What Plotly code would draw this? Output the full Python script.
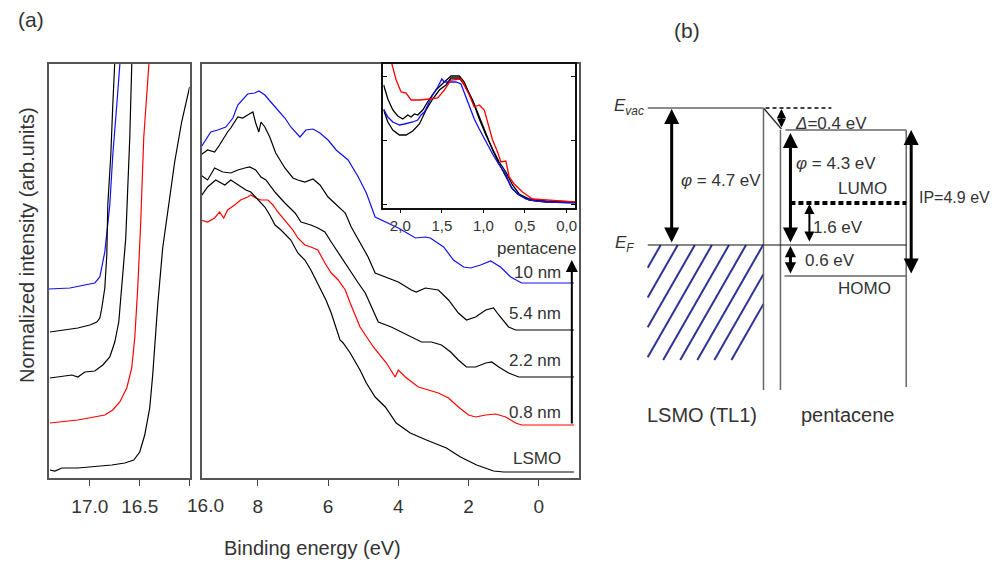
import plotly.graph_objects as go

FONT = "Liberation Sans, Arial, sans-serif"
TXT = "#333333"
W, H = 1002, 563
PAGE = 8  # default body margin of the html page

# ---------------- (a) main panel : valence band, binding energy (eV) vs intensity (arb.)
# every curve is given relative to its own baseline, then stacked with an offset
e_10nm = [9.63, 9.34, 9.14, 8.91, 8.71, 8.57, 8.29, 8.09, 7.97, 7.8, 7.63, 7.43, 7.23, 7.06, 6.8, 6.63, 6.43,
          6.23, 6.0, 5.77, 5.43, 5.14, 4.91, 4.66, 4.37, 4.0, 3.51, 3.23, 3.09, 2.71, 2.43, 2.14, 1.94, 1.66,
          1.37, 1.09, 0.8, 0.49, 0.0, -0.5, -1.0]
i_10nm = [135, 151, 153, 156, 165, 178, 189, 190, 192, 188, 181, 173, 165, 156, 146, 153, 154, 150, 143, 133,
          123, 106, 90, 66, 61, 55, 45, 46, 45, 36, 23, 16, 15, 18, 22, 16, 6, 0, 0, 0, 0]

e_54nm = [9.63, 9.43, 9.23, 9.09, 8.86, 8.77, 8.57, 8.43, 8.29, 8.14, 8.06, 7.97, 7.91, 7.8, 7.66, 7.49, 7.23,
          7.0, 6.86, 6.66, 6.43, 6.23, 6.0, 5.71, 5.51, 5.34, 5.14, 4.86, 4.66, 4.37, 4.0, 3.63, 3.49, 3.23,
          2.86, 2.57, 2.29, 2.06, 1.8, 1.51, 1.29, 1.14, 0.86, 0.66, 0.0, -0.5, -1.0]
i_54nm = [175, 180, 178, 185, 198, 202, 213, 212, 215, 218, 207, 198, 208, 203, 193, 177, 162, 152, 150, 148,
          151, 145, 133, 123, 117, 103, 90, 73, 57, 53, 48, 40, 38, 42, 40, 30, 17, 10, 13, 20, 22, 15, 3, 0,
          0, 0, 0]

e_22nm = [9.63, 9.43, 9.23, 9.0, 8.77, 8.57, 8.37, 8.23, 8.06, 7.91, 7.77, 7.63, 7.49, 7.23, 6.94, 6.77, 6.49,
          6.29, 6.09, 5.91, 5.71, 5.51, 5.34, 5.14, 4.94, 4.77, 4.57, 4.2, 3.91, 3.63, 3.34, 3.06, 2.77, 2.51,
          2.29, 2.06, 1.8, 1.51, 1.34, 1.14, 0.86, 0.57, 0.0, -0.5, -1.0]
i_22nm = [202, 197, 209, 205, 204, 207, 209, 210, 207, 200, 197, 190, 184, 174, 164, 155, 152, 149, 145, 135,
          124, 114, 104, 94, 84, 70, 55, 50, 45, 40, 35, 35, 32, 25, 17, 10, 10, 14, 15, 10, 4, 0, 0, 0, 0]

e_08nm = [9.63, 9.43, 9.23, 9.09, 8.97, 8.86, 8.66, 8.49, 8.29, 8.2, 8.06, 7.91, 7.71, 7.57, 7.43, 7.23, 7.0,
          6.86, 6.66, 6.49, 6.29, 6.09, 5.91, 5.71, 5.51, 5.37, 5.09, 4.71, 4.34, 4.09, 4.0, 3.8, 3.63, 3.43,
          3.14, 2.86, 2.57, 2.29, 2.0, 1.8, 1.51, 1.23, 0.94, 0.66, 0.49, 0.0, -0.5, -1.0]
i_08nm = [205, 203, 207, 213, 207, 215, 220, 225, 228, 230, 227, 225, 225, 220, 213, 205, 195, 187, 180, 178,
          175, 162, 152, 145, 135, 122, 98, 78, 62, 48, 55, 48, 43, 38, 35, 32, 27, 18, 10, 8, 10, 11, 8, 2,
          0, 0, 0, 0]

e_lsmo = [9.63, 9.43, 9.2, 8.94, 8.77, 8.49, 8.34, 8.2, 8.0, 7.8, 7.66, 7.51, 7.34, 7.06, 6.86, 6.66, 6.49,
          6.34, 6.2, 6.06, 5.91, 5.66, 5.57, 5.37, 5.09, 4.91, 4.66, 4.37, 4.06, 3.66, 3.2, 2.63, 2.23, 1.77,
          1.29, 1.0, 0.5, 0.0, -0.5, -1.0]
i_lsmo = [275, 285, 292, 287, 292, 285, 282, 280, 272, 265, 257, 247, 242, 232, 219, 212, 202, 192, 182, 172,
          159, 132, 129, 119, 102, 89, 75, 65, 49, 39, 32, 24, 15, 7, 1, 0, 0, 0, 0, 0]

labels = ["10 nm", "5.4 nm", "2.2 nm", "0.8 nm", "LSMO"]
colors = ["#1010f0", "#000000", "#000000", "#ff0000", "#000000"]
main_offsets = [195, 148, 101, 53, 6]
main_e = [e_10nm, e_54nm, e_22nm, e_08nm, e_lsmo]
main_i = [i_10nm, i_54nm, i_22nm, i_08nm, i_lsmo]

# ---------------- (a) left panel : secondary electron cut-off
le_10nm = [17.41, 17.2, 17.05, 16.95, 16.9, 16.85, 16.8, 16.77, 16.73, 16.7, 16.68]
li_10nm = [0, 1, 4, 6, 12, 37, 84, 134, 184, 224, 250]
le_54nm = [17.4, 17.12, 17.0, 16.93, 16.9, 16.88, 16.85, 16.83, 16.82, 16.79, 16.77, 16.75, 16.74]
li_54nm = [0, 4, 7, 10, 14, 24, 44, 77, 127, 177, 227, 267, 292]
le_22nm = [17.4, 17.18, 17.12, 17.05, 16.95, 16.87, 16.8, 16.75, 16.71, 16.68, 16.64, 16.62, 16.6, 16.58, 16.56]
li_22nm = [0, 3, 1, 6, 7, 13, 21, 36, 56, 90, 140, 190, 240, 313, 340]
le_08nm = [17.4, 17.12, 16.85, 16.77, 16.7, 16.63, 16.58, 16.55, 16.52, 16.49, 16.46, 16.41, 16.39]
li_08nm = [0, 3, 8, 13, 21, 35, 55, 85, 135, 201, 285, 358, 385]
le_lsmo = [17.4, 17.35, 17.28, 17.12, 16.78, 16.65, 16.56, 16.5, 16.45, 16.4, 16.37, 16.32, 16.27, 16.2,
           16.15, 16.08, 16.0]
li_lsmo = [0, -1, 2, 2, 5, 7, 10, 18, 35, 62, 95, 165, 222, 275, 308, 348, 383]
left_offsets = [189, 146, 100, 55, 8]
left_e = [le_10nm, le_54nm, le_22nm, le_08nm, le_lsmo]
left_i = [li_10nm, li_54nm, li_22nm, li_08nm, li_lsmo]

# ---------------- (a) inset : HOMO region
ie_red = [2.2, 2.11, 2.05, 1.99, 1.93, 1.87, 1.77, 1.65, 1.55, 1.47, 1.39, 1.27, 1.17, 1.11, 1.05, 0.99, 0.95,
          0.89, 0.83, 0.79, 0.73, 0.69, 0.63, 0.53, 0.41, 0.24, 0.12, -0.12]
ii_red = [175, 146, 128, 116, 115, 108, 108, 109, 110, 118, 128, 129, 113, 101, 103, 98, 86, 68, 56, 46, 47,
          31, 24, 16, 9, 8, 7, 6]
ie_blue = [2.2, 2.15, 2.09, 2.01, 1.95, 1.85, 1.79, 1.75, 1.71, 1.67, 1.61, 1.55, 1.5, 1.47, 1.41, 1.33, 1.27,
           1.19, 1.11, 1.05, 0.97, 0.89, 0.81, 0.73, 0.67, 0.59, 0.49, 0.37, 0.2, -0.12]
ii_blue = [99, 91, 86, 83, 84, 86, 88, 93, 96, 103, 113, 121, 129, 126, 126, 126, 124, 106, 89, 79, 66, 54, 43,
           34, 21, 14, 9, 7, 6, 5]
ie_blk1 = [2.2, 2.15, 2.09, 2.03, 1.97, 1.91, 1.87, 1.83, 1.79, 1.73, 1.65, 1.57, 1.51, 1.45, 1.39, 1.29, 1.23,
           1.17, 1.11, 1.05, 0.97, 0.89, 0.81, 0.73, 0.65, 0.57, 0.45, 0.25, -0.12]
ii_blk1 = [123, 109, 98, 92, 89, 93, 91, 94, 93, 98, 109, 118, 123, 128, 132, 132, 126, 114, 103, 89, 73, 59,
           46, 36, 23, 14, 9, 7, 6]
ie_blk2 = [2.2, 2.15, 2.09, 2.01, 1.93, 1.85, 1.77, 1.69, 1.61, 1.53, 1.45, 1.39, 1.29, 1.21, 1.13, 1.05, 0.97,
           0.89, 0.81, 0.73, 0.65, 0.57, 0.45, 0.25, -0.12]
ii_blk2 = [98, 86, 78, 73, 73, 77, 84, 98, 109, 118, 123, 130, 130, 121, 108, 91, 74, 58, 44, 32, 19, 13, 8,
           6, 5]
inset_e = [ie_blk2, ie_blk1, ie_blue, ie_red]
inset_i = [ii_blk2, ii_blk1, ii_blue, ii_red]
inset_colors = ["#000000", "#000000", "#1010f0", "#ff0000"]
inset_ticks = [2.0, 1.5, 1.0, 0.5, 0.0]
inset_ticktext = ["2,0", "1,5", "1,0", "0,5", "0,0"]

# ---------------- (b) schematic energy diagram (drawing units, E_F = 0, not to scale)
lvl_vac_lsmo = 137
lvl_vac_pen = 115
lvl_lumo = 42
lvl_ef = 0
lvl_homo = -31
lvl_bottom = -145
x_lsmo_left, x_if1, x_if2, x_pen_right = 649, 765, 782, 908

fig = go.Figure()


def px(x):
    return (x - PAGE) / W


def py(y):
    return 1 - (y - PAGE) / H


for e, i, off, c in zip(left_e, left_i, left_offsets, colors):
    fig.add_trace(go.Scatter(x=e, y=[v + off for v in i], mode="lines", line=dict(color=c, width=1.2),
                             xaxis="x", yaxis="y", hoverinfo="skip"))

for e, i, off, c in zip(main_e, main_i, main_offsets, colors):
    fig.add_trace(go.Scatter(x=e, y=[v + off for v in i], mode="lines", line=dict(color=c, width=1.2),
                             xaxis="x2", yaxis="y2", hoverinfo="skip"))

for e, i, c in zip(inset_e, inset_i, inset_colors):
    fig.add_trace(go.Scatter(x=e, y=i, mode="lines", line=dict(color=c, width=1.3),
                             xaxis="x3", yaxis="y3", hoverinfo="skip"))

frame = dict(showline=True, mirror=True, linecolor="#555555", linewidth=1.5, showgrid=False, zeroline=False)

fig.update_layout(
    width=W, height=H, margin=dict(l=0, r=0, t=0, b=0),
    paper_bgcolor="white", plot_bgcolor="rgba(0,0,0,0)", showlegend=False,
    font=dict(family=FONT, size=17, color=TXT),
    xaxis=dict(domain=[px(49), px(190)], range=[17.41, 16.0], tickvals=[17.0, 16.5, 16.0],
               ticktext=["17.0", "16.5", ""], ticks="outside", ticklen=6, tickcolor="#444",
               tickfont=dict(size=19), ticklabelstandoff=4, anchor="y", **frame),
    yaxis=dict(domain=[py(478), py(64)], range=[0, 414], showticklabels=False, ticks="", anchor="x", **frame),
    xaxis2=dict(domain=[px(202), px(580)], range=[9.6, -1.14], tickvals=[8, 6, 4, 2, 0],
                ticks="outside", ticklen=6, tickcolor="#444", tickfont=dict(size=19), ticklabelstandoff=4,
                anchor="y2", **frame),
    yaxis2=dict(domain=[py(478), py(64)], range=[0, 414], showticklabels=False, ticks="", anchor="x2", **frame),
    xaxis3=dict(domain=[px(384), px(576)], range=[2.205, -0.1], tickvals=inset_ticks, ticktext=inset_ticktext,
                ticks="outside", ticklen=3, tickcolor="#111", tickfont=dict(size=15),
                anchor="y3", showline=True, mirror=True, linecolor="#111",
                linewidth=1.5, showgrid=False, zeroline=False),
    yaxis3=dict(domain=[py(208), py(64)], range=[0, 144], tickvals=[4, 68, 132], showticklabels=False,
                ticks="inside", ticklen=4, tickcolor="#111", anchor="x3", showline=True, mirror="ticks",
                linecolor="#111", linewidth=1.5, showgrid=False, zeroline=False),
    # drawing axis for panel (b): one unit = one pixel of the page
    xaxis4=dict(domain=[px(600), 1], range=[600, PAGE + W], visible=False, anchor="y4"),
    yaxis4=dict(domain=[0, 1], range=[245 - PAGE - H, 245 - PAGE], visible=False, anchor="x4"),
)

ann = []
# panel (a) texts
ann.append(dict(text="(a)", x=px(31), y=py(19), xref="paper", yref="paper", xanchor="center",
                yanchor="middle", showarrow=False, font=dict(size=21)))
ann.append(dict(text="16.0", x=px(206), y=py(505), xref="paper", yref="paper", xanchor="center",
                yanchor="middle", showarrow=False, font=dict(size=19)))
ann.append(dict(text="Normalized intensity (arb.units)", x=px(27), y=py(245), xref="paper", yref="paper",
                xanchor="center", yanchor="middle", showarrow=False, textangle=-90, font=dict(size=20)))
ann.append(dict(text="Binding energy (eV)", x=px(313), y=py(548), xref="paper", yref="paper",
                xanchor="center", yanchor="middle", showarrow=False, font=dict(size=20)))
ann.append(dict(text="pentacene", x=-1.12, y=230, xref="x2", yref="y2", xanchor="right", showarrow=False,
                font=dict(size=17)))
for lab, yy in zip(labels, [206, 165, 118, 66, 20]):
    ann.append(dict(text=lab, x=-0.7, y=yy, xref="x2", yref="y2", xanchor="right", showarrow=False,
                    font=dict(size=17)))
# thickness arrow
ann.append(dict(text="", x=-0.94, y=218, ax=-0.94, ay=main_offsets[3], xref="x2", yref="y2", axref="x2",
                ayref="y2", showarrow=True, arrowhead=2, arrowsize=1.2, arrowwidth=2, arrowcolor="#000",
                standoff=0))

# panel (b)
shapes = []


def seg(x0, y0, x1, y1, color="#666666", width=1.5, dash=None):
    shapes.append(dict(type="line", xref="x4", yref="y4", x0=x0, y0=y0, x1=x1, y1=y1,
                       line=dict(color=color, width=width, dash=dash)))


# hatching of the metal (filled states below E_F)
slope = 1.745
hatch_h = lvl_ef - (-115)
for k in range(9):
    x0 = 662 + 17.1 * k
    s0 = max(0.0, x0 - x_if1)
    s1 = min(x0 - x_lsmo_left, hatch_h / slope)
    seg(x0 - s0, lvl_ef - slope * s0, x0 - s1, lvl_ef - slope * s1, color="#2f3393", width=2)

seg(x_lsmo_left, lvl_vac_lsmo, x_if1, lvl_vac_lsmo)
seg(x_if1, lvl_vac_lsmo, x_if2 + 1, lvl_vac_pen + 1, color="#222", width=1.2)
seg(x_if1 + 2, lvl_vac_lsmo, 833, lvl_vac_lsmo, color="#000", width=1.5, dash="4px,3px")
seg(787, lvl_vac_pen, x_pen_right, lvl_vac_pen)
seg(x_if1, lvl_vac_lsmo, x_if1, lvl_bottom)
seg(x_if2, lvl_vac_pen, x_if2, lvl_bottom)
seg(x_pen_right, lvl_vac_pen, x_pen_right, lvl_bottom + 3)
seg(x_lsmo_left, lvl_ef, x_pen_right, lvl_ef, color="#111", width=1.2)
seg(792, lvl_lumo, x_pen_right, lvl_lumo, color="#000", width=4, dash="5px,3px")
seg(786, lvl_homo, x_pen_right, lvl_homo)


def darrow(x, y0, y1, w=3, size=1.0):
    ann.append(dict(text="", x=x, y=y1, ax=x, ay=y0, xref="x4", yref="y4", axref="x4", ayref="y4",
                    showarrow=True, arrowhead=2, arrowside="end+start", arrowsize=size, arrowwidth=w,
                    arrowcolor="#000", standoff=0, startstandoff=0))


darrow(673, lvl_ef + 1, lvl_vac_lsmo - 1)
darrow(783, lvl_vac_pen + 1, lvl_vac_lsmo - 1, w=2, size=0.9)
darrow(792, lvl_ef + 1, lvl_vac_pen - 3)
darrow(913, lvl_homo + 1, lvl_vac_pen)
darrow(792, lvl_homo + 1, lvl_ef - 1, size=0.75)
darrow(811, lvl_ef + 2, lvl_lumo - 1, w=2)


def btext(t, x, y, anchor="left", size=17):
    ann.append(dict(text=t, x=x, y=y, xref="x4", yref="y4", xanchor=anchor, yanchor="middle",
                    showarrow=False, font=dict(size=size)))


btext("<i>E</i><sub><i>vac</i></sub>", 647, lvl_vac_lsmo + 1, anchor="right")
btext("<i>E</i><sub><i>F</i></sub>", 637, lvl_ef + 1, anchor="right")
btext("<i>φ</i> = 4.7 eV", 680, 65)
btext("<i>Δ</i>=0.4 eV", 795, 122)
btext("<i>φ</i> = 4.3 eV", 796, 82)
btext("LUMO", 838, 57)
btext("1.6 eV", 813, 18)
btext("IP=4.9 eV", 919, 48, size=16)
btext("0.6 eV", 805, -15)
btext("HOMO", 838, -43)
btext("LSMO (TL1)", 646, -170, size=20)
btext("pentacene", 801, -170, size=20)
btext("(b)", 688, 215, anchor="center", size=21)

fig.update_layout(annotations=ann, shapes=shapes)
fig.write_html("out.html")
